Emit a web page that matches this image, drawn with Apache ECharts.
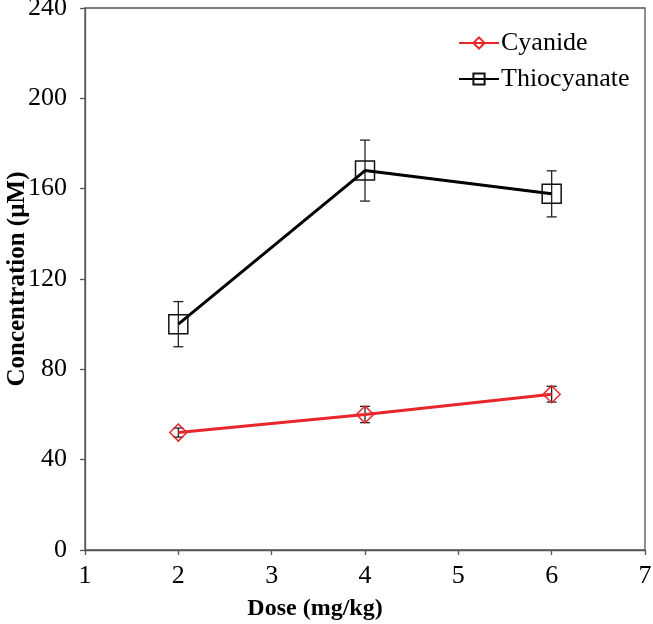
<!DOCTYPE html>
<html><head><meta charset="utf-8">
<script src="https://cdn.jsdelivr.net/npm/echarts@6/dist/echarts.min.js"></script>
<style>html,body{margin:0;padding:0;background:#fff}#c{width:653px;height:624px}</style>
</head><body><div id="c"></div>
<script>
const doses = [2, 4, 6];
const cyanide = [52, 60, 69];
const cyanideErr = [2, 3.6, 3.5];
const thiocyanate = [100, 168, 157.7];
const thiocyanateErr = [10, 13.5, 10.2];
const xTicks = [1, 2, 3, 4, 5, 6, 7];
const yTicks = [0, 40, 80, 120, 160, 200, 240];

const font = 'Liberation Serif';
function errData(vals, errs) {
  return doses.map((d, i) => [d, vals[i] - errs[i], vals[i] + errs[i]]);
}
function errSeries(vals, errs) {
  return {
    type: 'custom', silent: true, z: 1,
    data: errData(vals, errs),
    encode: { x: 0, y: [1, 2] },
    renderItem: function (params, api) {
      const lo = api.coord([api.value(0), api.value(1)]);
      const hi = api.coord([api.value(0), api.value(2)]);
      const w = 5;
      const st = { stroke: '#222', lineWidth: 1.3 };
      return { type: 'group', children: [
        { type: 'line', shape: { x1: lo[0], y1: lo[1], x2: hi[0], y2: hi[1] }, style: st },
        { type: 'line', shape: { x1: lo[0] - w, y1: lo[1], x2: lo[0] + w, y2: lo[1] }, style: st },
        { type: 'line', shape: { x1: hi[0] - w, y1: hi[1], x2: hi[0] + w, y2: hi[1] }, style: st }
      ]};
    }
  };
}
const chart = echarts.init(document.getElementById('c'));
chart.setOption({
  animation: false,
  backgroundColor: '#fff',
  grid: { left: 85, right: 8, top: 8, bottom: 74, containLabel: false, outerBoundsMode: 'none',
    show: true, borderColor: '#555', borderWidth: 1.3, backgroundColor: 'transparent' },
  legend: {
    left: 453, top: 25, orient: 'vertical', itemWidth: 40, itemHeight: 14, itemGap: 10,
    textStyle: { fontFamily: font, fontSize: 26, color: '#000', padding: [0, 0, 0, -3] },
    data: ['Cyanide', 'Thiocyanate']
  },
  xAxis: {
    type: 'value', min: 1, max: 7, interval: 1,
    name: 'Dose (mg/kg)', nameLocation: 'middle', nameGap: 47, nameMoveOverlap: false,
    nameTextStyle: { fontFamily: font, fontSize: 24, fontWeight: 'bold', color: '#000', padding: [0, 100, 0, 0] },
    axisLine: { lineStyle: { color: '#555', width: 1.3 } },
    axisTick: { show: true, length: 5, lineStyle: { color: '#555', width: 1.3 } },
    axisLabel: { fontFamily: font, fontSize: 26, color: '#000', margin: 13,
      formatter: v => xTicks.includes(v) ? String(v) : '' },
    splitLine: { show: false }
  },
  yAxis: {
    type: 'value', min: 0, max: 240, interval: 40,
    name: 'Concentration (µM)', nameLocation: 'middle', nameGap: 55, nameMoveOverlap: false,
    nameTextStyle: { fontFamily: font, fontSize: 25, fontWeight: 'bold', color: '#000' },
    axisLine: { show: true, lineStyle: { color: '#555', width: 1.3 } },
    axisTick: { show: true, length: 5, lineStyle: { color: '#555', width: 1.3 } },
    axisLabel: { fontFamily: font, fontSize: 26, color: '#000', margin: 18,
      formatter: v => yTicks.includes(v) ? String(v) : '' },
    splitLine: { show: false }
  },
  series: [
    errSeries(cyanide, cyanideErr),
    errSeries(thiocyanate, thiocyanateErr),
    {
      name: 'Cyanide', type: 'line', z: 3,
      data: doses.map((d, i) => [d, cyanide[i]]),
      symbol: 'diamond', symbolSize: [17, 17],
      lineStyle: { color: '#e8262b', width: 3 },
      itemStyle: { color: 'rgba(255,255,255,0)', borderColor: '#e8262b', borderWidth: 1.5 }
    },
    {
      name: 'Thiocyanate', type: 'line', z: 3,
      data: doses.map((d, i) => [d, thiocyanate[i]]),
      symbol: 'rect', symbolSize: [19, 19],
      lineStyle: { color: '#000', width: 3 },
      itemStyle: { color: 'rgba(255,255,255,0)', borderColor: '#111', borderWidth: 1.5 }
    }
  ]
});
</script></body></html>
